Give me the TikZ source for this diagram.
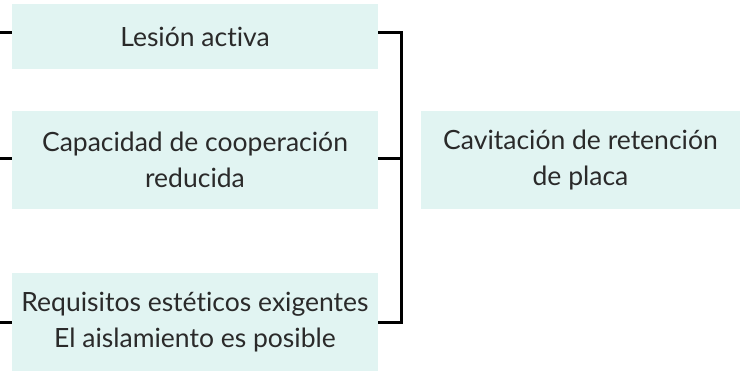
\documentclass[tikz,border=0pt]{standalone}
\usepackage{fontspec}
\setmainfont{Lato}[Ligatures={NoCommon}]
\definecolor{boxfill}{HTML}{E1F4F2}
\definecolor{txt}{HTML}{2A2A2A}
\begin{document}
\begin{tikzpicture}[x=1pt,y=1pt,
  box/.style={fill=boxfill, draw=none, inner sep=0pt, minimum width=366pt, align=center, text=txt, font=\fontsize{26.5}{36}\selectfont},
  conn/.style={draw=black, line width=3pt, line join=miter}]
\fill[white] (0,0) rectangle (740,-371);
\useasboundingbox (0,0) rectangle (740,-371);
\node[box, minimum height=65pt] (b1) at (195,-36.5) {Lesión activa};
\node[box, minimum height=98pt] (b2) at (195,-160) {Capacidad de cooperación\\reducida};
\node[box, minimum height=98pt] (b3) at (195,-322) {Requisitos estéticos exigentes\\El aislamiento es posible};
\node[box, minimum height=98pt, minimum width=319pt] (b4) at (580.5,-160) {Cavitación de retención\\de placa};
\coordinate (l1) at (0,-33);
\coordinate (l2) at (0,-159);
\coordinate (l3) at (0,-323);
\coordinate (r1) at (401.5,-33);
\coordinate (r2) at (401.5,-159);
\coordinate (r3) at (401.5,-323);
\draw[conn] (l1) -- (l1 -| b1.west);
\draw[conn] (l2) -- (l2 -| b2.west);
\draw[conn] (l3) -- (l3 -| b3.west);
\draw[conn] (r1 -| b1.east) -- (r1) -- (r3) -- (r3 -| b3.east);
\draw[conn] (r2 -| b2.east) -- (r2);
\end{tikzpicture}
\end{document}
